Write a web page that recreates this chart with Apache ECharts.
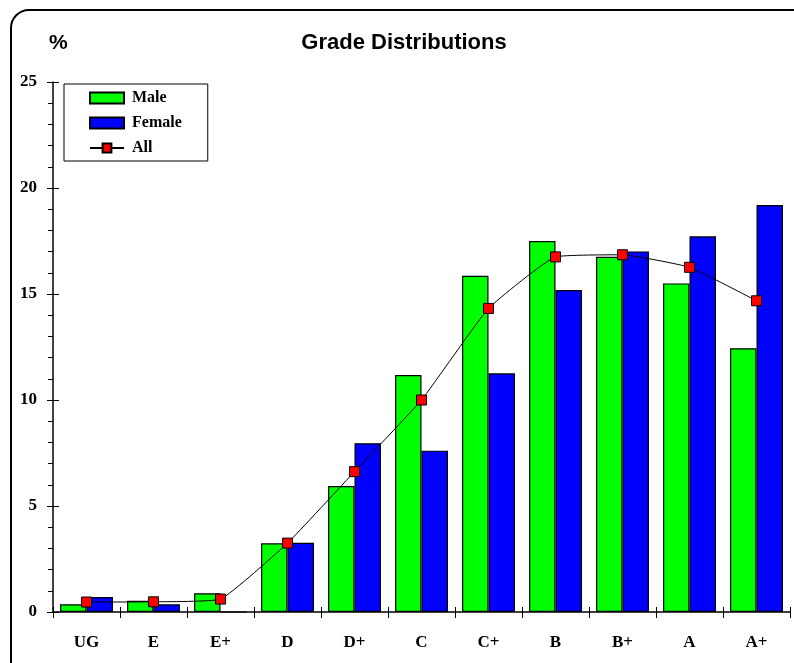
<!DOCTYPE html>
<html>
<head>
<meta charset="utf-8">
<script src="https://cdn.jsdelivr.net/npm/echarts@6/dist/echarts.min.js"></script>
<style>
  html, body { margin: 0; padding: 0; background: #fff; }
  #main { width: 794px; height: 663px; }
</style>
</head>
<body>
<div id="main"></div>
<script>
// grade categories and percentages
var grades = ['UG', 'E', 'E+', 'D', 'D+', 'C', 'C+', 'B', 'B+', 'A', 'A+'];
var male = [0.36, 0.53, 0.88, 3.24, 5.94, 11.18, 15.86, 17.5, 16.76, 15.5, 12.44];
var female = [0.71, 0.36, 0, 3.27, 7.96, 7.61, 11.26, 15.19, 17.01, 17.72, 19.2];
var allStudents = [0.47, 0.48, 0.61, 3.25, 6.62, 10.0, 14.32, 16.75, 16.85, 16.26, 14.68];
var yTicks = [0, 5, 10, 15, 20, 25];

var serif = '"Liberation Serif", "Times New Roman", serif';
var sans = '"Liberation Sans", Arial, sans-serif';

function renderChart() {
  var chart = echarts.init(document.getElementById('main'), null, { renderer: 'canvas' });

  var yMin = yTicks[0], yMax = yTicks[yTicks.length - 1];

  var option = {
    animation: false,
    backgroundColor: '#fff',
    grid: { left: 53, right: 4, top: 82, bottom: 51 },
    graphic: [
      {
        type: 'rect',
        z: -10,
        shape: { x: 11, y: 10, width: 820, height: 700, r: [18, 0, 0, 0] },
        style: { fill: 'none', stroke: '#000', lineWidth: 2 }
      },
      {
        type: 'text', x: 404, y: 43,
        style: { text: 'Grade Distributions', font: 'bold 22px ' + sans, fill: '#000', align: 'center', verticalAlign: 'middle' }
      },
      {
        type: 'text', x: 49, y: 43,
        style: { text: '%', font: 'bold 21px ' + sans, fill: '#000', align: 'left', verticalAlign: 'middle' }
      }
    ],
    legend: {
      orient: 'vertical',
      left: 64, top: 84,
      padding: [6, 26, 5, 25],
      itemWidth: 34, itemHeight: 11, itemGap: 9,
      backgroundColor: '#fff',
      borderColor: '#000', borderWidth: 1,
      textStyle: { fontFamily: serif, fontWeight: 'bold', fontSize: 16, color: '#000', lineHeight: 16, padding: [0, 0, 0, 3] },
      data: [{ name: 'Male', icon: 'rect' }, { name: 'Female', icon: 'rect' }, 'All']
    },
    xAxis: [
      {
        type: 'category',
        data: grades,
        axisLine: { lineStyle: { color: '#000', width: 1.5 } },
        axisTick: { show: true, length: 6, lineStyle: { color: '#000' } },
        axisLabel: { color: '#000', fontFamily: serif, fontWeight: 'bold', fontSize: 17, margin: 22 },
        splitLine: { show: false }
      },
      {
        type: 'category',
        data: grades,
        position: 'bottom',
        axisLine: { show: false },
        axisTick: { show: true, inside: true, length: 5, lineStyle: { color: '#000' } },
        axisLabel: { show: false }
      }
    ],
    yAxis: [
      {
        type: 'value',
        min: yMin, max: yMax, interval: 5,
        axisLine: { show: true, lineStyle: { color: '#000', width: 1.5 } },
        axisTick: { show: true, length: 6, lineStyle: { color: '#000' } },
        minorTick: { show: true, splitNumber: 5, length: 5, lineStyle: { color: '#000' } },
        axisLabel: { color: '#000', fontFamily: serif, fontWeight: 'bold', fontSize: 17, margin: 16 },
        splitLine: { show: false }
      },
      {
        type: 'value',
        position: 'left',
        min: yMin, max: yMax, interval: 5,
        axisLine: { show: false },
        axisTick: { show: true, inside: true, length: 6, lineStyle: { color: '#000' } },
        axisLabel: { show: false },
        splitLine: { show: false }
      }
    ],
    series: [
      {
        name: 'Male', type: 'bar', data: male,
        barGap: '0%', barCategoryGap: '21%',
        itemStyle: { color: '#00ff00', borderColor: '#000', borderWidth: 1.2 }
      },
      {
        name: 'Female', type: 'bar', data: female,
        barGap: '0%', barCategoryGap: '21%',
        itemStyle: { color: '#0000ff', borderColor: '#000', borderWidth: 1.2 }
      },
      {
        name: 'All', type: 'line', data: allStudents,
        smooth: 0.12,
        symbol: 'rect', symbolSize: 10,
        lineStyle: { color: '#000', width: 1 },
        itemStyle: { color: '#ff0000', borderColor: '#000', borderWidth: 1 },
        z: 5
      }
    ]
  };

  chart.setOption(option);
}

renderChart();
</script>
</body>
</html>
